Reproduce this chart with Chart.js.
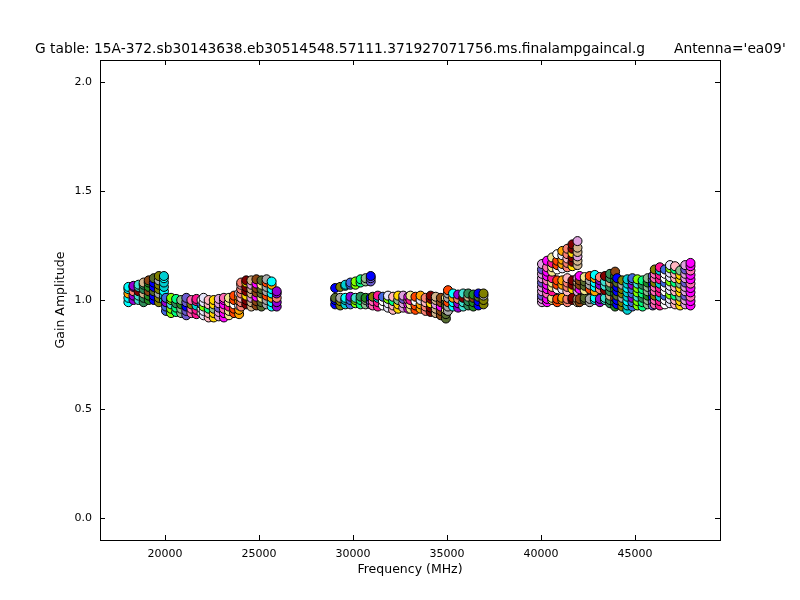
<!DOCTYPE html>
<html>
<head>
<meta charset="utf-8">
<script src="https://cdn.jsdelivr.net/npm/chart.js@4.4.0/dist/chart.umd.min.js"></script>
<style>
html, body { margin: 0; padding: 0; background: #fff; }
</style>
</head>
<body>
<canvas id="gaincal" width="800" height="600"></canvas>
<script>
// spw centre frequencies (MHz) and gain amplitudes per spw, K / Ka / Q bands
var kFreq = [18050, 18320, 18590, 18860, 19130, 19400, 19670, 19940,
             20050, 20320, 20590, 20860, 21130, 21400, 21670, 21940,
             22050, 22320, 22590, 22860, 23130, 23400, 23670, 23940,
             24050, 24320, 24590, 24860, 25130, 25400, 25670, 25940];
var kGain = [
    [0.99, 1.01, 1.03, 1.05, 1.06], [1.0, 1.02, 1.04, 1.06, 1.065],
    [1.0, 1.02, 1.04, 1.06, 1.07], [0.99, 1.01, 1.03, 1.05, 1.07, 1.08],
    [1.0, 1.02, 1.04, 1.06, 1.08, 1.09], [1.0, 1.02, 1.04, 1.06, 1.08, 1.10],
    [0.99, 1.01, 1.03, 1.05, 1.07, 1.09, 1.11], [1.0, 1.02, 1.04, 1.06, 1.08, 1.10, 1.11],
    [0.95, 0.97, 0.99, 1.01], [0.94, 0.96, 0.98, 1.0, 1.01],
    [0.945, 0.965, 0.985, 1.005], [0.94, 0.96, 0.98, 1.0],
    [0.93, 0.95, 0.97, 0.99, 1.01], [0.94, 0.96, 0.98, 1.0],
    [0.935, 0.955, 0.975, 0.995, 1.005], [0.94, 0.96, 0.98, 1.0],
    [0.93, 0.95, 0.97, 0.99, 1.01], [0.92, 0.94, 0.96, 0.98, 1.0],
    [0.92, 0.94, 0.96, 0.98, 1.0], [0.925, 0.945, 0.965, 0.985, 1.005],
    [0.92, 0.94, 0.96, 0.98, 1.0, 1.01], [0.93, 0.95, 0.97, 0.99, 1.01],
    [0.94, 0.96, 0.98, 1.0, 1.02], [0.935, 0.955, 0.975, 0.995, 1.015, 1.03],
    [0.97, 0.99, 1.01, 1.03, 1.05, 1.07, 1.08], [0.98, 1.0, 1.02, 1.04, 1.06, 1.08, 1.09],
    [0.97, 0.99, 1.01, 1.03, 1.05, 1.07, 1.09], [0.975, 0.995, 1.015, 1.035, 1.055, 1.075, 1.095],
    [0.97, 0.99, 1.01, 1.03, 1.05, 1.07, 1.09], [0.98, 1.0, 1.02, 1.04, 1.06, 1.08, 1.095],
    [0.97, 0.99, 1.01, 1.03, 1.05, 1.07, 1.085], [0.97, 0.99, 1.01, 1.03, 1.04]
];

var kaFreq = [29050, 29320, 29590, 29860, 30130, 30400, 30670, 30940,
              31050, 31320, 31590, 31860, 32130, 32400, 32670, 32940,
              33050, 33320, 33590, 33860, 34130, 34400, 34670, 34940,
              35050, 35320, 35590, 35860, 36130, 36400, 36670, 36940];
var kaGain = [
    [0.98, 1.0, 1.01, 1.055], [0.975, 0.995, 1.01, 1.06],
    [0.98, 1.0, 1.01, 1.065, 1.07], [0.98, 1.0, 1.015, 1.07, 1.08],
    [0.985, 1.0, 1.01, 1.07, 1.085], [0.98, 1.0, 1.015, 1.08, 1.095],
    [0.98, 1.0, 1.01, 1.085, 1.10], [0.98, 0.995, 1.01, 1.085, 1.10, 1.11],
    [0.975, 0.995, 1.015], [0.97, 0.99, 1.01, 1.02],
    [0.975, 0.995, 1.015], [0.965, 0.985, 1.005, 1.02],
    [0.955, 0.975, 0.995, 1.015], [0.96, 0.98, 1.0, 1.02],
    [0.965, 0.985, 1.005, 1.02], [0.96, 0.98, 1.0, 1.015],
    [0.96, 0.98, 1.0, 1.02], [0.955, 0.975, 0.995, 1.015],
    [0.96, 0.98, 1.0, 1.02], [0.95, 0.97, 0.99, 1.01],
    [0.945, 0.965, 0.985, 1.005, 1.02], [0.94, 0.96, 0.98, 1.0, 1.015],
    [0.93, 0.95, 0.97, 0.99, 1.01], [0.915, 0.935, 0.955, 0.975, 0.995, 1.01],
    [0.95, 0.97, 0.99, 1.01, 1.03, 1.045], [0.97, 0.99, 1.01, 1.03],
    [0.965, 0.985, 1.005, 1.025], [0.97, 0.99, 1.01, 1.03],
    [0.975, 0.995, 1.015, 1.03], [0.97, 0.99, 1.01, 1.025],
    [0.975, 0.995, 1.015, 1.03], [0.98, 1.0, 1.02, 1.03]
];

var qFreq = [40050, 40320, 40590, 40860, 41130, 41400, 41670, 41940,
             42050, 42320, 42590, 42860, 43130, 43400, 43670, 43940,
             44050, 44320, 44590, 44860, 45130, 45400, 45670, 45940,
             46050, 46320, 46590, 46860, 47130, 47400, 47670, 47950];
var qGain = [
    [0.99, 1.005, 1.02, 1.04, 1.06, 1.08, 1.10, 1.12, 1.14, 1.165],
    [0.99, 1.005, 1.03, 1.05, 1.07, 1.09, 1.11, 1.13, 1.15, 1.18],
    [1.0, 1.01, 1.04, 1.06, 1.08, 1.10, 1.13, 1.15, 1.17, 1.195],
    [0.99, 1.005, 1.05, 1.07, 1.09, 1.14, 1.16, 1.18, 1.21],
    [1.0, 1.01, 1.05, 1.07, 1.09, 1.145, 1.165, 1.185, 1.205, 1.225],
    [0.99, 1.005, 1.04, 1.06, 1.08, 1.10, 1.15, 1.17, 1.19, 1.21, 1.235],
    [1.0, 1.01, 1.05, 1.07, 1.09, 1.155, 1.175, 1.195, 1.215, 1.235, 1.255],
    [0.99, 1.005, 1.04, 1.06, 1.08, 1.10, 1.16, 1.18, 1.20, 1.22, 1.24, 1.27],
    [0.99, 1.005, 1.05, 1.07, 1.09, 1.11], [1.0, 1.01, 1.045, 1.065, 1.085, 1.105],
    [0.99, 1.005, 1.05, 1.07, 1.09, 1.11], [1.0, 1.01, 1.04, 1.06, 1.08, 1.10, 1.115],
    [0.99, 1.005, 1.05, 1.07, 1.09, 1.105], [1.0, 1.01, 1.045, 1.065, 1.085, 1.11],
    [0.985, 1.0, 1.02, 1.04, 1.06, 1.08, 1.10, 1.12],
    [0.97, 0.99, 1.01, 1.03, 1.05, 1.07, 1.09, 1.11, 1.13],
    [0.98, 1.0, 1.02, 1.04, 1.06, 1.08, 1.10], [0.97, 0.99, 1.01, 1.03, 1.05, 1.07, 1.09],
    [0.955, 0.975, 0.995, 1.015, 1.035, 1.055, 1.075, 1.095],
    [0.97, 0.99, 1.01, 1.03, 1.05, 1.07, 1.09, 1.10],
    [0.975, 0.995, 1.015, 1.035, 1.055, 1.075, 1.095], [0.97, 0.99, 1.01, 1.03, 1.05, 1.07, 1.09],
    [0.98, 1.0, 1.02, 1.04, 1.06, 1.08, 1.10], [0.975, 0.995, 1.015, 1.035, 1.055, 1.075, 1.095, 1.11],
    [0.98, 1.0, 1.02, 1.04, 1.06, 1.08, 1.10, 1.12, 1.14],
    [0.975, 0.995, 1.015, 1.035, 1.055, 1.075, 1.095, 1.115, 1.135, 1.15],
    [0.98, 1.0, 1.02, 1.04, 1.06, 1.08, 1.10, 1.12, 1.14],
    [0.985, 1.005, 1.025, 1.045, 1.065, 1.085, 1.105, 1.125, 1.145, 1.16],
    [0.98, 1.0, 1.02, 1.04, 1.06, 1.08, 1.10, 1.12, 1.14, 1.155],
    [0.975, 0.995, 1.015, 1.035, 1.055, 1.075, 1.095, 1.115, 1.135],
    [0.98, 1.0, 1.02, 1.04, 1.06, 1.08, 1.10, 1.12, 1.14, 1.16],
    [0.975, 0.995, 1.015, 1.035, 1.055, 1.075, 1.095, 1.115, 1.135, 1.155, 1.17]
];

var xTicks = [20000, 25000, 30000, 35000, 40000, 45000];
var yTicks = [0.0, 0.5, 1.0, 1.5, 2.0];

var titleText = "G table: 15A-372.sb30143638.eb30514548.57111.371927071756.ms.finalampgaincal.g";
var antennaText = "Antenna='ea09'";

var palette = ['#00ffff', '#ff69b4', '#d2b48c', '#7fff00', '#ff4500', '#0000ff', '#ffd700',
    '#9400d3', '#ff1493', '#8b4513', '#00ff7f', '#ffa500', '#808000', '#dda0dd', '#40e0d0',
    '#ffffff', '#556b2f', '#8fbc8f', '#fa8072', '#00ced1', '#ff00ff', '#2e8b57', '#e6e6fa',
    '#a9a9a9', '#6a5acd', '#800000', '#4169e1', '#f0e68c', '#228b22', '#ffb6c1'];

var FONT = '"DejaVu Sans", sans-serif';

function bandPoints(freqs, gains) {
    var pts = [];
    freqs.forEach(function (f, i) {
        gains[i].forEach(function (g) { pts.push({ x: f, y: g }); });
    });
    return pts;
}

function bandColors(gains, offset) {
    var cols = [];
    gains.forEach(function (col, i) {
        col.forEach(function (g, j) {
            // mostly one colour per spw, a few neighbours mixed in
            var k = (i * 7 + offset + (j % 3 === 2 ? 11 : 0)) % palette.length;
            cols.push(palette[k]);
        });
    });
    return cols;
}

function band(freqs, gains, offset) {
    return {
        data: bandPoints(freqs, gains),
        pointBackgroundColor: bandColors(gains, offset),
        pointBorderColor: '#000',
        pointBorderWidth: 1,
        pointRadius: 4.5,
        pointHoverRadius: 4.5,
        showLine: false
    };
}

var frame = {
    id: 'frame',
    afterDraw: function (chart) {
        var ctx = chart.ctx, a = chart.chartArea;
        var xs = chart.scales.x, ys = chart.scales.y;
        ctx.save();
        ctx.strokeStyle = '#000';
        ctx.lineWidth = 1;
        ctx.strokeRect(a.left + 0.5, a.top + 0.5, a.right - a.left, a.bottom - a.top);
        ctx.beginPath();
        xTicks.forEach(function (v) {
            var px = Math.round(xs.getPixelForValue(v)) + 0.5;
            ctx.moveTo(px, a.bottom); ctx.lineTo(px, a.bottom - 5);
            ctx.moveTo(px, a.top); ctx.lineTo(px, a.top + 5);
        });
        yTicks.forEach(function (v) {
            var py = Math.round(ys.getPixelForValue(v)) + 0.5;
            ctx.moveTo(a.left, py); ctx.lineTo(a.left + 5, py);
            ctx.moveTo(a.right, py); ctx.lineTo(a.right - 5, py);
        });
        ctx.stroke();

        ctx.fillStyle = '#000';
        ctx.textAlign = 'left';
        ctx.textBaseline = 'alphabetic';
        ctx.font = '13.8px ' + FONT;
        ctx.fillText(titleText, 35, 53);
        ctx.fillText(antennaText, 674, 53);

        ctx.font = '12.5px ' + FONT;
        ctx.textAlign = 'center';
        ctx.textBaseline = 'middle';
        ctx.fillText('Frequency (MHz)', (a.left + a.right) / 2, 570);
        ctx.translate(61, (a.top + a.bottom) / 2);
        ctx.rotate(-Math.PI / 2);
        ctx.fillText('Gain Amplitude', 0, 0);
        ctx.restore();
    }
};

var config = {
    type: 'scatter',
    data: {
        datasets: [band(kFreq, kGain, 0), band(kaFreq, kaGain, 5), band(qFreq, qGain, 13)]
    },
    options: {
        responsive: false,
        animation: false,
        events: [],
        layout: { padding: { top: 60, right: 80, left: 0, bottom: 0 } },
        plugins: { legend: { display: false }, tooltip: { enabled: false }, title: { display: false } },
        scales: {
            x: {
                type: 'linear',
                min: 16540,
                max: 49520,
                grid: { display: false, drawTicks: false },
                border: { display: false },
                ticks: { color: '#000', padding: 8, font: { family: FONT, size: 11 }, maxRotation: 0,
                         callback: function (v) { return String(v); } },
                afterBuildTicks: function (scale) {
                    scale.ticks = xTicks.map(function (v) { return { value: v }; });
                },
                afterFit: function (scale) { scale.height = 60; }
            },
            y: {
                min: -0.1,
                max: 2.1,
                grid: { display: false, drawTicks: false },
                border: { display: false },
                ticks: { color: '#000', padding: 8, font: { family: FONT, size: 11 },
                         callback: function (v) { return v.toFixed(1); } },
                afterBuildTicks: function (scale) {
                    scale.ticks = yTicks.map(function (v) { return { value: v }; });
                },
                afterFit: function (scale) { scale.width = 100; }
            }
        }
    },
    plugins: [frame]
};

window.onload = function () {
    var ctx = document.getElementById('gaincal').getContext('2d');
    window.gainChart = new Chart(ctx, config);
};
</script>
</body>
</html>
